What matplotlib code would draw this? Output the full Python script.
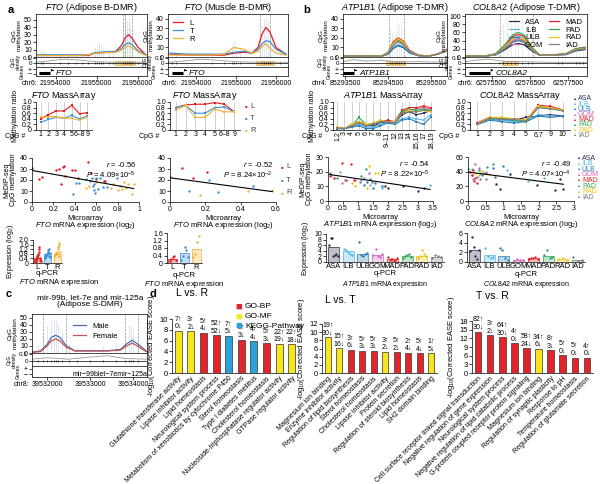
import numpy as np
import matplotlib.pyplot as plt
from matplotlib.patches import Rectangle

plt.rcParams['font.family'] = ['Liberation Sans', 'DejaVu Sans']
plt.rcParams['mathtext.fontset'] = 'custom'
plt.rcParams['mathtext.rm'] = 'Liberation Sans'
plt.rcParams['mathtext.it'] = 'Liberation Sans:italic'
plt.rcParams['axes.linewidth'] = 0.5
plt.rcParams['font.size'] = 5

W, H = 600, 484
fig = plt.figure(figsize=(6, 4.84), dpi=100)

# ---------------- colours ----------------
ltr_names = ['L', 'T', 'R']
ltr_colors = ['#e41a1c', '#3a8fd6', '#f2b134']
grp_names = ['ASA', 'ILB', 'ULB', 'GOM', 'MAD', 'PAD', 'RAD', 'IAD']
grp_colors = ['#2b2f4f', '#58b7e8', '#2a7fb8', '#d464b8', '#e0262b', '#33a852', '#f2c118', '#7f7f7f']

# ---------------- genome tracks (a, b, c) ----------------
fto_a_pos = [21953550, 21954000, 21954500, 21954800, 21954950, 21955200, 21955450, 21955600,
             21955700, 21955780, 21955860, 21956000, 21956200]
fto_a_L = [2, 2, 2, 2, 5, 6, 7, 15, 26, 30, 26, 14, 3]
fto_a_T = [3, 3, 3, 3, 6, 7, 7, 11, 17, 19, 17, 9, 3]
fto_a_R = [2, 2, 2, 3, 5, 6, 6, 9, 13, 15, 13, 7, 2]
fto_a_raw_pos = [21953650, 21953700, 21954100, 21954300, 21954500, 21954650, 21954800, 21954950,
                 21955000, 21955050, 21955100, 21955150, 21955300, 21955400, 21955650, 21955700,
                 21955740, 21955780, 21955820, 21955860, 21956000]
fto_a_raw_top = [10, 8, 4, 4, 5, 5, 5, 14, 18, 20, 16, 12, 10, 12, 45, 55, 50, 52, 40, 30, 12]

fto_m_pos = [21953350, 21953800, 21954300, 21954700, 21954950, 21955200, 21955400, 21955550,
             21955650, 21955750, 21955850, 21956000, 21956250]
fto_m_L = [3, 2, 2, 2, 4, 5, 4, 10, 24, 31, 26, 10, 3]
fto_m_T = [4, 3, 3, 3, 5, 6, 4, 8, 14, 17, 16, 8, 3]
fto_m_R = [2, 2, 2, 3, 10, 8, 4, 6, 11, 14, 9, 4, 2]
fto_m_raw_pos = [21953400, 21953500, 21954400, 21954700, 21954900, 21954950, 21955000, 21955100,
                 21955650, 21955700, 21955750, 21955800, 21955850, 21956100]
fto_m_raw_top = [6, 5, 3, 4, 14, 18, 16, 10, 32, 40, 42, 38, 30, 8]

atp_pos = [85293450, 85294000, 85294350, 85294500, 85294620, 85294730, 85294850, 85295000,
           85295200, 85295450, 85295650, 85295870]
atp_curves = {
    'ASA': [1, 1, 1, 3, 9, 12, 10, 5, 1.5, 1, 3, 7],
    'ILB': [1, 1, 1, 3, 10, 13, 11, 5, 1.5, 1, 3, 7],
    'ULB': [1, 1, 1, 3, 9, 12, 10, 4, 1.5, 1, 3, 6],
    'GOM': [1, 1, 1, 4, 13, 17, 14, 6, 1.5, 1, 3, 7],
    'MAD': [1, 1, 1, 5, 16, 20, 17, 7, 2, 1, 3, 8],
    'PAD': [1, 1, 1, 4, 15, 18, 15, 6, 2, 1, 3, 7],
    'RAD': [1, 1, 1, 4, 14, 19, 16, 6, 2, 1, 3, 7],
    'IAD': [1, 1, 1, 4, 12, 16, 13, 6, 1.5, 1, 3, 7],
}
atp_raw_pos = [85294550, 85294600, 85294650, 85294700, 85294750, 85294800, 85294870, 85295800]
atp_raw_top = [30, 25, 28, 40, 35, 38, 30, 10]

col_pos = [62574800, 62575300, 62575600, 62575850, 62576050, 62576200, 62576350, 62576550,
           62576750, 62577100, 62577450, 62577700, 62577950]
col_curves = {
    'ASA': [2, 2, 5, 18, 30, 33, 30, 15, 5, 5, 6, 15, 18],
    'ILB': [2, 2, 6, 25, 45, 50, 45, 20, 5, 5, 7, 18, 22],
    'ULB': [2, 2, 5, 20, 36, 40, 36, 17, 5, 5, 6, 16, 20],
    'GOM': [2, 2, 6, 24, 41, 45, 41, 19, 5, 5, 7, 18, 22],
    'MAD': [2, 2, 7, 28, 50, 55, 50, 22, 6, 5, 8, 20, 24],
    'PAD': [2, 2, 8, 30, 54, 60, 54, 24, 6, 5, 8, 20, 23],
    'RAD': [2, 2, 6, 25, 44, 48, 44, 20, 5, 5, 7, 18, 21],
    'IAD': [2, 2, 6, 22, 38, 42, 38, 18, 5, 5, 7, 17, 20],
}
col_raw_pos = [62575700, 62575800, 62575900, 62576000, 62576100, 62576200, 62576300, 62576450,
               62576550, 62577250, 62577350, 62577700, 62577800, 62577900]
col_raw_top = [70, 80, 95, 90, 100, 85, 95, 80, 60, 15, 20, 30, 35, 30]

c_pos = [39531650, 39531850, 39532000, 39532100, 39532200, 39532300, 39532450, 39532650,
         39533000, 39533400, 39533700, 39533850, 39533980, 39534120, 39534300]
c_male = [1, 3, 12, 22, 25, 22, 10, 3, 3, 3, 5, 13, 18, 12, 3]
c_female = [1, 2, 10, 17, 20, 17, 8, 3, 3, 3, 4, 10, 14, 9, 2]
c_raw_pos = [39531800, 39531900, 39532000, 39532100, 39532150, 39532200, 39532250, 39532350,
             39532500, 39532700, 39533000, 39533300, 39533600, 39533800, 39533900, 39533950,
             39534000, 39534100]
c_raw_top = [10, 25, 40, 45, 50, 48, 42, 30, 12, 8, 6, 10, 12, 30, 40, 38, 35, 25]

# ---------------- MassArray ----------------
fto_ma_labels = ['1', '2', '3', '4', '5', '6–8', '9']
fto_ma_adi = {'L': [0.40, 0.55, 0.68, 0.68, 0.88, 0.58, 0.62],
              'T': [0.27, 0.38, 0.45, 0.42, 0.52, 0.40, 0.50],
              'R': [0.45, 0.48, 0.48, 0.42, 0.42, 0.35, 0.48]}
fto_ma_mus = {'L': [0.80, 0.90, 0.92, 0.92, 0.98, 0.92, 0.65],
              'T': [0.80, 0.88, 0.60, 0.60, 0.80, 0.82, 0.65],
              'R': [0.70, 0.88, 0.45, 0.45, 0.75, 0.65, 0.65]}
atp_ma_labels = ['1,2', '3', '4', '5', '6', '7', '8', '9–11', '12', '13', '14', '15,16', '17', '18,19']
atp_ma = {
    'ASA': [0.05, 0.05, 0.15, 0.25, 0.15, 0.15, 0.25, 0.30, 0.25, 0.55, 0.65, 0.55, 0.60, 0.70],
    'ILB': [0.05, 0.05, 0.10, 0.20, 0.10, 0.10, 0.20, 0.25, 0.25, 0.40, 0.45, 0.40, 0.35, 0.55],
    'ULB': [0.05, 0.05, 0.10, 0.15, 0.05, 0.05, 0.15, 0.25, 0.20, 0.35, 0.40, 0.30, 0.20, 0.45],
    'GOM': [0.10, 0.05, 0.20, 0.30, 0.20, 0.20, 0.30, 0.30, 0.30, 0.65, 0.70, 0.75, 0.80, 0.75],
    'MAD': [0.10, 0.05, 0.20, 0.30, 0.20, 0.20, 0.30, 0.35, 0.30, 0.70, 0.80, 0.80, 0.85, 0.80],
    'PAD': [0.10, 0.05, 0.15, 0.45, 0.20, 0.20, 0.30, 0.30, 0.30, 0.65, 0.75, 0.70, 0.75, 0.70],
    'RAD': [0.10, 0.05, 0.20, 0.30, 0.20, 0.25, 0.35, 0.30, 0.30, 0.60, 0.70, 0.65, 0.70, 0.65],
    'IAD': [0.08, 0.05, 0.15, 0.25, 0.15, 0.20, 0.30, 0.30, 0.25, 0.60, 0.65, 0.65, 0.70, 0.70],
}
col_ma_labels = ['1', '2', '3', '4', '5', '6,7', '9', '10']
col_ma = {
    'ASA': [0.20, 0.40, 0.35, 0.35, 0.45, 0.50, 0.55, 0.50],
    'ILB': [0.25, 0.40, 0.35, 0.30, 0.30, 0.55, 0.50, 0.48],
    'ULB': [0.20, 0.35, 0.30, 0.25, 0.30, 0.50, 0.45, 0.50],
    'GOM': [0.25, 0.45, 0.40, 0.40, 0.30, 0.85, 0.80, 0.70],
    'MAD': [0.25, 0.45, 0.40, 0.40, 0.35, 0.88, 0.85, 0.72],
    'PAD': [0.20, 0.40, 0.40, 0.35, 0.30, 0.80, 0.78, 0.70],
    'RAD': [0.22, 0.45, 0.45, 0.40, 0.35, 0.85, 0.80, 0.70],
    'IAD': [0.20, 0.42, 0.40, 0.38, 0.32, 0.80, 0.75, 0.68],
}

# ---------------- MeDIP-seq vs microarray ----------------
fto_sc_adi = {
    'L': ([0, 0.07, 0.09, 0.22, 0.25, 0.27, 0.29, 0.30, 0.31, 0.37, 0.40, 0.43, 0.52, 0.55, 0.60, 0.67, 0.68],
          [31, 21, 23, 29, 30, 16, 32, 33, 24, 29, 29, 22, 36, 26, 21, 19, 19]),
    'T': ([0.38, 0.41, 0.44, 0.50, 0.54, 0.56, 0.57, 0.58, 0.59, 0.60, 0.62, 0.64, 0.66, 0.70, 0.79, 0.58],
          [7, 17, 17, 21, 19, 22, 15, 11, 8, 22, 12, 22, 14, 14, 22, 16]),
    'R': ([0.50, 0.53, 0.60, 0.74, 0.76, 0.80, 0.82, 0.86, 0.88, 0.90, 0.93, 0.95, 0.84],
          [13, 15, 18, 13, 16, 11, 15, 18, 13, 16, 7, 16, 12]),
}
fto_sc_mus = {
    'L': ([0, 0.07, 0.13, 0.21], [23, 31, 22, 27]),
    'T': ([0.11, 0.22, 0.27, 0.47], [10, 20, 9, 15]),
    'R': ([0.17, 0.44, 0.58], [6, 10, 11]),
}
atp_sc = {
    'ASA': ([2.5, 3.0, 3.2, 1.9, 2.0], [10, 7, 9, 10, 9]),
    'ILB': ([0.4, 1.1, 1.4, 1.8, 3.4], [20, 14, 11, 9, 11]),
    'ULB': ([1.2, 1.5, 1.55, 1.8, 1.3], [11, 9, 12, 10, 13]),
    'GOM': ([0.45, 0.9, 1.2, 1.35], [12, 14, 16, 19]),
    'MAD': ([0.05, 0.45, 0.75, 0.6, 0.85, 0.2], [17, 26, 25, 14, 14, 16]),
    'PAD': ([0.05, 0.3, 1.1, 1.4, 1.25], [19, 16, 17, 15, 22]),
    'RAD': ([0.8, 0.9, 1.3, 1.55, 1.35, 1.65], [12, 10, 9, 19, 24, 19]),
    'IAD': ([0.1, 0.55, 1.05, 1.45], [18, 14, 13, 13]),
}
col_sc = {
    'ASA': ([0.8, 0.9, 1.2, 2.45, 2.6, 2.7, 1.95], [23, 17, 37, 15, 30, 17, 22]),
    'ILB': ([0.1, 1.1, 1.7, 2.15, 0.5], [43, 42, 27, 32, 40]),
    'ULB': ([0.7, 1.0, 0.75, 0.4], [45, 48, 33, 35]),
    'GOM': ([0.15, 0.2, 0.3, 0.5, 0.1], [30, 50, 45, 38, 35]),
    'MAD': ([0.1, 0.18, 0.2, 0.25, 0.05, 0.15], [35, 27, 32, 24, 40, 42]),
    'PAD': ([0.0, 0.3, 0.55, 0.7, 0.35], [43, 42, 47, 50, 38]),
    'RAD': ([0.2, 0.3, 0.4, 0.6], [38, 35, 41, 37]),
    'IAD': ([0.25, 0.35, 0.45, 0.5], [33, 30, 38, 30]),
}

# ---------------- q-PCR ----------------
fto_q_adi_bar = [0.40, 0.75, 0.82]
fto_q_adi_pts = [[0.1, 0.2, 0.3, 0.35, 0.4, 0.5, 0.6, 0.7, 0.8, 1.0, 1.2, 1.4, 0.25, 0.45, 0.15],
                 [0.4, 0.5, 0.6, 0.7, 0.75, 0.8, 0.9, 1.0, 1.1, 1.2, 0.65, 0.55, 0.85],
                 [0.6, 0.7, 0.75, 0.8, 0.85, 0.9, 1.0, 1.2, 1.4, 1.6, 1.75, 0.65, 0.95]]
fto_q_mus_bar = [0.20, 0.55, 0.75]
fto_q_mus_pts = [[0.1, 0.2, 0.3, 0.35, 0.15], [0.15, 0.4, 0.85, 0.7, 0.3], [0.3, 0.5, 1.1, 1.45]]
atp_q_bar = [5.5, 3.9, 2.8, 2.4, 1.0, 2.2, 2.2, 1.9]
atp_q_pts = [[6, 8.5, 8.7, 2, 2.5, 3, 2.2], [4.5, 4.4, 3.5, 3.0, 2.5], [7, 2.5, 2.0, 3.0, 3.2],
             [2.5, 4.5, 2, 1.8, 3], [1.8, 0.8, 1.2, 1.0, 0.5, 0.7, 1.3], [1.5, 2.0, 2.5, 3.0, 1.8],
             [1.5, 2.0, 4.2, 3.0, 2.0], [1.5, 2.5, 2.0, 1.8]]
col_q_bar = [2.5, 1.4, 1.2, 0.5, 0.8, 1.3, 0.6, 0.35]
col_q_pts = [[2.2, 5.2, 3.2, 1.2, 0.6, 2.5], [2.8, 1.3, 0.8, 1.0], [2.9, 2.5, 0.8, 0.4],
             [0.3, 0.6, 0.4, 0.5], [0.6, 0.8, 0.9, 1.0, 0.7], [1.5, 2.4, 0.8, 1.0],
             [0.6, 0.8, 0.3], [1.0, 0.3, 0.5]]

# ---------------- panel d ----------------
lr_terms = ['Glutathione transferase activity', 'Lipase inhibitor activity', 'Lipid homeostasis',
            'Neurological system process', 'Metabolism of xenobiotics by cytochrome P450',
            'Sterol homeostasis', 'Type I diabetes mellitus', 'Cholesterol homeostasis',
            'Nucleoside-triphosphatase regulator activity', 'GTPase regulator activity']
lr_vals = [7.8, 7.7, 7.4, 7.0, 6.9, 6.2, 5.9, 5.5, 5.4, 5.3]
lr_type = ['MF', 'MF', 'BP', 'BP', 'KEGG', 'BP', 'KEGG', 'BP', 'MF', 'MF']
lr_up = [7, 3, 5, 52, 7, 5, 4, 5, 22, 22]
lr_dn = [0, 2, 4, 52, 5, 3, 4, 3, 19, 18]

lt_terms = ['Magnesium ion binding', 'Enzyme inhibitor activity', 'Regulation of lipid biosynthesis',
            'Sterol homeostasis', 'Cholesterol homeostasis', 'Lipase inhibitor activity',
            'Protein secretion', 'Regulation of steroid biosynthesis', 'Lipid homeostasis',
            'SH2 domain binding']
lt_vals = [8.7, 6.1, 5.7, 5.4, 5.4, 5.2, 5.1, 4.9, 4.8, 4.8]
lt_type = ['MF', 'MF', 'BP', 'BP', 'BP', 'MF', 'BP', 'BP', 'BP', 'MF']
lt_up = [19, 15, 3, 5, 5, 3, 5, 2, 5, 1]
lt_dn = [30, 16, 6, 3, 3, 2, 2, 4, 4, 5]

tr_terms = ['Cell surface receptor linked signal transduction', 'Negative regulation of gene expression',
            'Neurological system process', 'Negative regulation of lipid catabolic process',
            'G-protein coupled receptor protein signaling', 'Magnesium ion binding',
            'Regulation of synaptic plasticity', 'Response to pH', 'Temperature homeostasis',
            'Regulation of glutamate secretion']
tr_vals = [14.3, 13.0, 12.3, 10.3, 8.5, 8.3, 7.9, 6.1, 5.3, 5.2]
tr_type = ['BP', 'BP', 'BP', 'BP', 'BP', 'MF', 'BP', 'BP', 'BP', 'BP']
tr_up = [82, 3, 64, 4, 58, 34, 8, 5, 5, 4]
tr_dn = [30, 2, 30, 0, 24, 6, 3, 0, 0, 0]

type_colors = {'BP': '#e3242b', 'MF': '#f7e51d', 'KEGG': '#2aa3dc'}


def axpx(x0, y0, x1, y1):
    return fig.add_axes([x0 / W, 1 - y1 / H, (x1 - x0) / W, (y1 - y0) / H])


def ticks(ax, size=5):
    ax.tick_params(length=2, width=0.5, labelsize=size, pad=1)


def openframe(ax):
    ax.spines['top'].set_visible(False)
    ax.spines['right'].set_visible(False)


def ftext(x, y, s, **kw):
    fig.text(x / W, 1 - y / H, s, **kw)


def genome(x0, x1, yt, ym, yd, yb, xlim, pos, curves, colors, ylim, yticks, xticks, chrom,
           raw_pos, raw_top, raw_col, dmr, dens_x, dens_y, island, gene, gname, title):
    a1 = axpx(x0, yt, x1, ym)
    a1.vlines(raw_pos, 0, raw_top, color=raw_col, lw=0.4, alpha=0.45)
    for d in dmr:
        a1.axvline(d, color='#999999', lw=0.5, ls='--')
    for ys, c in zip(curves, colors):
        a1.plot(pos, ys, color=c, lw=0.9)
    a1.set_xlim(*xlim)
    a1.set_ylim(*ylim)
    a1.set_yticks(yticks)
    a1.set_xticks([])
    a1.set_ylabel('CpG\nmethylation', fontsize=4.5, labelpad=2, linespacing=1.0)
    ticks(a1)
    if title:
        a1.set_title(title, fontsize=6.5, pad=2)
    a2 = axpx(x0, ym, x1, yd)
    a2.plot(dens_x, dens_y, color='#999999', lw=0.6)
    a2.axhline(0, color='k', lw=0.5)
    if island[1] > island[0]:
        a2.add_patch(Rectangle((island[0], -0.035), island[1] - island[0], 0.07,
                               facecolor='#f4cf85', edgecolor='#d9a441', lw=0.4))
    a2.plot(raw_pos, [0] * len(raw_pos), '|', color='k', ms=2, mew=0.4)
    a2.set_xlim(*xlim)
    a2.set_ylim(-0.07, 0.12)
    ticks(a2, 4.5)
    a2.set_yticks([0, 0.1])
    a2.set_yticklabels(['0', '0.1'])
    a2.set_xticks([])
    a2.set_ylabel('CpG\ndensity', fontsize=3.6, labelpad=2, linespacing=1.0)
    a3 = axpx(x0, yd, x1, yb)
    if gname:
        a3.plot(gene, [-0.6, -0.6], color='k', lw=2.2, solid_capstyle='butt')
        a3.annotate('', xy=(gene[1] + (xlim[1] - xlim[0]) * 0.03, 0.4), xytext=(gene[1], 0.4),
                    arrowprops=dict(arrowstyle='-|>', lw=0.5, color='k', mutation_scale=3))
        a3.text(gene[1] + (xlim[1] - xlim[0]) * 0.05, -0.6, gname, fontsize=6, va='center',
                style='italic')
    a3.set_xlim(*xlim)
    a3.set_ylim(-1.5, 1.5)
    ticks(a3)
    a3.set_yticks([0.8, -0.8])
    a3.set_yticklabels(['+', '−'])
    a3.set_ylabel('Genes', fontsize=3.6, labelpad=2)
    a3.set_xticks(xticks)
    a3.set_xticklabels([str(v) for v in xticks])
    a3.annotate(chrom, xy=(xticks[0], 0), xycoords=('data', 'axes fraction'), xytext=(-13, -3),
                textcoords='offset points', ha='right', va='top', fontsize=5)
    return a1


def massarray(x0, y0, x1, y1, labels, data, names, colors, title, rot=0, ylab=True):
    ax = axpx(x0, y0, x1, y1)
    n = len(labels)
    for i in range(n):
        ax.axvline(i, color='#aaaaaa', lw=0.4)
    for nm, c in zip(names, colors):
        ax.plot(range(n), data[nm], '-s', color=c, lw=0.8, ms=1.6, mew=0)
    ax.set_xlim(-0.6, n - 0.4)
    ax.set_ylim(0, 1.0)
    ticks(ax)
    ax.set_yticks(np.arange(0, 1.01, 0.2))
    ax.set_yticklabels(['0', '0.2', '0.4', '0.6', '0.8', '1.0'])
    ax.set_xticks(range(n))
    ax.set_xticklabels(labels, rotation=rot)
    openframe(ax)
    ax.tick_params(axis='x', length=0)
    ax.set_title(title, fontsize=6.5, pad=2)
    if ylab:
        ax.set_ylabel('Methylation ratio', fontsize=5, labelpad=2)
    ax.annotate('CpG #', xy=(0, 0), xycoords='axes fraction', xytext=(-8, -2),
                textcoords='offset points', ha='right', va='top', fontsize=5)
    return ax


def scatter(x0, y0, x1, y1, data, names, colors, xlim, xt, ylim, yt, rtxt, ptxt, gene_lbl):
    ax = axpx(x0, y0, x1, y1)
    allx, ally = [], []
    for nm, c in zip(names, colors):
        xs, ys = data[nm]
        ax.scatter(xs, ys, s=3, color=c, lw=0)
        allx += xs
        ally += ys
    k, b = np.polyfit(allx, ally, 1)
    xl = np.array([min(allx), max(allx)])
    ax.plot(xl, k * xl + b, color='k', lw=0.8)
    ax.set_xlim(*xlim)
    ax.set_ylim(*ylim)
    ticks(ax)
    ax.set_xticks(xt)
    ax.set_yticks(yt)
    openframe(ax)
    ax.text(0.97, 0.95, rtxt + '\n' + ptxt, transform=ax.transAxes, ha='right', va='top',
            fontsize=5.5, linespacing=1.1)
    ax.set_xlabel('Microarray', fontsize=5.5, labelpad=1)
    ax.text(0.5, -0.42, gene_lbl, transform=ax.transAxes, ha='center', va='top', fontsize=5.5)
    return ax


def qpcr(x0, y0, x1, y1, bars, pts, names, colors, ylim, yt, ytl, lblsize=5.5, ylab=True):
    ax = axpx(x0, y0, x1, y1)
    for i, (h, p, c) in enumerate(zip(bars, pts, colors)):
        ax.bar(i, h, width=0.75, color=c, alpha=0.3, lw=0)
        ax.bar(i, h, width=0.75, fill=False, edgecolor=c, lw=0.5)
        jit = np.linspace(-0.28, 0.28, len(p))
        ax.scatter(i + jit, p, s=3, color=c, lw=0, zorder=3)
    ax.set_xlim(-0.5, len(bars) - 0.5)
    ax.set_ylim(*ylim)
    ticks(ax)
    ax.set_yticks(yt)
    ax.set_yticklabels(ytl)
    ax.set_xticks(range(len(bars)))
    ax.set_xticklabels(names, fontsize=lblsize)
    openframe(ax)
    ax.tick_params(axis='x', length=0, pad=0.5)
    if ylab:
        ax.set_ylabel('Expression (log$_2$)', fontsize=5, labelpad=2)
    ax.text(0.5, -0.3, 'q-PCR', transform=ax.transAxes, ha='center', va='top', fontsize=5.5)
    return ax


def ease(x0, y0, x1, y1, terms, vals, types, up, dn, ylim, yt, title):
    ax = axpx(x0, y0, x1, y1)
    xs = np.arange(len(terms))
    ax.bar(xs, vals, width=0.55, color=[type_colors[t] for t in types], edgecolor='#333333', lw=0.5)
    for x, v, u, d in zip(xs, vals, up, dn):
        ax.annotate(f'{d}↓', (x, v), xytext=(0, 0.5), textcoords='offset points', ha='center',
                    va='bottom', fontsize=5)
        ax.annotate(f'{u}↑', (x, v), xytext=(0, 6), textcoords='offset points', ha='center',
                    va='bottom', fontsize=5)
    ax.set_xlim(-0.5, len(terms) - 0.5)
    ax.set_ylim(*ylim)
    ticks(ax, 5.5)
    ax.set_yticks(yt)
    ax.set_xticks(xs)
    ax.set_xticklabels(terms, rotation=45, ha='right', rotation_mode='anchor', fontsize=5.0)
    openframe(ax)
    ax.tick_params(axis='x', length=0, pad=1.5)
    ax.set_ylabel('-log$_{10}$(Corrected EASE score)', fontsize=5.5, labelpad=2)
    ax.text(0.03, 1.38, title, transform=ax.transAxes, fontsize=7.5, va='bottom')
    return ax


# ---------------- panel a ----------------
ftext(8, 5, 'a', fontsize=8, fontweight='bold', va='top')
genome(36, 147, 14, 57, 67, 76, (21953520, 21956230), fto_a_pos, [fto_a_L, fto_a_T, fto_a_R],
       ltr_colors, (0, 58), range(0, 51, 10), [21954000, 21955000, 21956000], 'chr6:',
       fto_a_raw_pos, fto_a_raw_top, '#6f8fc8', [21955650, 21955700, 21955860],
       [21953550, 21953900, 21954200, 21954600, 21955000, 21955500, 21956200],
       [0.02, 0.05, 0.08, 0.06, 0.03, 0.02, 0.02], (21955450, 21955925),
       (21953600, 21953870), 'FTO', r'$\it{FTO}$ (Adipose B-DMR)')
g = genome(168, 288, 14, 57, 67, 76, (21953300, 21956300), fto_m_pos, [fto_m_L, fto_m_T, fto_m_R],
           ltr_colors, (0, 45), range(0, 41, 10), [21954000, 21955000, 21956000], 'chr6:',
           fto_m_raw_pos, fto_m_raw_top, '#8fa8d8', [21955600, 21955850],
           [21953300, 21953800, 21954100, 21954500, 21955000, 21955500, 21956300],
           [0.02, 0.05, 0.08, 0.06, 0.03, 0.02, 0.02], (21955500, 21955950),
           (21953400, 21953680), 'FTO', r'$\it{FTO}$ (Muscle B-DMR)')
for nm, c in zip(ltr_names, ltr_colors):
    g.plot([], [], color=c, lw=0.9, label=nm)
g.legend(loc='upper left', fontsize=5.5, frameon=False, handlelength=1.3, labelspacing=0.1,
         borderaxespad=0.3)

massarray(36, 102, 92, 130, fto_ma_labels, fto_ma_adi, ltr_names, ltr_colors, r'$\it{FTO}$ MassArray')
massarray(170, 102, 240, 130, fto_ma_labels, fto_ma_mus, ltr_names, ltr_colors,
          r'$\it{FTO}$ MassArray', ylab=False)
for i, (nm, c) in enumerate(zip(ltr_names, ltr_colors)):
    ftext(245, 106 + 12 * i, '■', color=c, fontsize=3, va='center')
    ftext(250, 106 + 12 * i, nm, color='#444444', fontsize=5.5, va='center')

ax = scatter(32, 158, 139, 202, fto_sc_adi, ltr_names, ltr_colors, (0, 1),
             [0, 0.2, 0.4, 0.6, 0.8, 1], (0, 40), range(0, 41, 10), r'$r$ = -0.56',
             r'$P$ = 4.09×10$^{-5}$', r'$\it{FTO}$ mRNA expression (log$_2$)')
ax.set_xticklabels(['0', '0.2', '0.4', '0.6', '0.8', '1'])
ax.set_ylabel('MeDIP-seq\nCpG methylation', fontsize=5, labelpad=2, linespacing=1.0)
ax = scatter(170, 158, 276, 202, fto_sc_mus, ltr_names, ltr_colors, (0, 0.6), [0, 0.2, 0.4, 0.6],
             (0, 40), range(0, 41, 10), r'$r$ = -0.52', r'$P$ = 8.24×10$^{-2}$',
             r'$\it{FTO}$ mRNA expression (log$_2$)')
ax.set_xticklabels(['0', '0.2', '0.4', '0.6'])
for i, (nm, c) in enumerate(zip(ltr_names, ltr_colors)):
    ftext(281, 167 + 13 * i, '■', color=c, fontsize=3, va='center')
    ftext(286, 167 + 13 * i, nm, color='#444444', fontsize=5.5, va='center')

ax = qpcr(33, 240, 62, 263, fto_q_adi_bar, fto_q_adi_pts, ltr_names, ltr_colors, (0, 2.0),
          [0, 0.4, 0.8, 1.2, 1.6, 2.0], ['0', '0.4', '0.8', '1.2', '1.6', '2.0'])
ax.text(0.9, -0.62, r'$\it{FTO}$ mRNA expression', transform=ax.transAxes, ha='center', va='top',
        fontsize=5.5)
ax = qpcr(167, 233, 202, 263, fto_q_mus_bar, fto_q_mus_pts, ltr_names, ltr_colors, (0, 1.6),
          [0, 0.4, 0.8, 1.2, 1.6], ['0', '0.4', '0.8', '1.2', '1.6'], ylab=False)
ax.text(0.5, -0.55, r'$\it{FTO}$ mRNA expression', transform=ax.transAxes, ha='center', va='top',
        fontsize=5.5)

# ---------------- panel b ----------------
ftext(303, 5, 'b', fontsize=8, fontweight='bold', va='top')
genome(343, 447, 14, 57, 67, 76, (85293450, 85295870), atp_pos, [atp_curves[n] for n in grp_names],
       grp_colors, (0, 45), range(0, 41, 10), [85293500, 85294500, 85295500], 'chr4:',
       atp_raw_pos, atp_raw_top, '#b0b0b0', [85294520, 85294870],
       [85293450, 85293700, 85294000, 85294300, 85294700, 85295200, 85295870],
       [0.03, 0.07, 0.04, 0.06, 0.03, 0.03, 0.02], (85294450, 85294900),
       (85293450, 85293700), 'ATP1B1', r'$\it{ATP1B1}$ (Adipose T-DMR)')
g = genome(465, 587, 14, 57, 67, 76, (62574800, 62578000), col_pos, [col_curves[n] for n in grp_names],
           grp_colors, (0, 105), range(0, 101, 20), [62575500, 62576500, 62577500], 'chr6:',
           col_raw_pos, col_raw_top, '#b0b0b0', [62575720, 62576590],
           [62574800, 62575100, 62575400, 62575800, 62576300, 62577000, 62578000],
           [0.03, 0.06, 0.08, 0.04, 0.03, 0.02, 0.02], (62575770, 62576170),
           (62574900, 62575450), 'COL8A2', r'$\it{COL8A2}$ (Adipose T-DMR)')
for nm, c in zip(grp_names, grp_colors):
    g.plot([], [], color=c, lw=0.9, label=nm)
g.legend(loc='upper right', ncol=2, fontsize=5.5, frameon=False, handlelength=1.3,
         labelspacing=0.05, columnspacing=0.8, borderaxespad=0.2)

massarray(333, 102, 435, 130, atp_ma_labels, atp_ma, grp_names, grp_colors,
          r'$\it{ATP1B1}$ MassArray', rot=90)
massarray(470, 102, 570, 130, col_ma_labels, col_ma, grp_names, grp_colors,
          r'$\it{COL8A2}$ MassArray', ylab=False)
for i, (nm, c) in enumerate(zip(grp_names, grp_colors)):
    ftext(574, 99 + 5.2 * i, '■', color=c, fontsize=2.5, va='center')
    ftext(578, 99 + 5.2 * i, nm, color=c, fontsize=5, va='center')

ax = scatter(328, 157, 433, 201, atp_sc, grp_names, grp_colors, (0, 3.5),
             [0, 0.5, 1, 1.5, 2, 2.5, 3, 3.5], (0, 30), range(0, 31, 10), r'$r$ = -0.54',
             r'$P$ = 8.22×10$^{-5}$', r'$\it{ATP1B1}$ mRNA expression (log$_2$)')
ax.set_xticklabels(['0', '0.5', '1', '1.5', '2', '2.5', '3', '3.5'])
ax.set_ylabel('MeDIP-seq\nCpG methylation', fontsize=5, labelpad=2, linespacing=1.0)
ax = scatter(468, 157, 574, 201, col_sc, grp_names, grp_colors, (0, 3),
             [0, 0.5, 1, 1.5, 2, 2.5, 3], (0, 60), range(0, 61, 20), r'$r$ = -0.49',
             r'$P$ = 4.07×10$^{-4}$', r'$\it{COL8A2}$ mRNA expression (log$_2$)')
ax.set_xticklabels(['0', '0.5', '1', '1.5', '2', '2.5', '3'])
for i, (nm, c) in enumerate(zip(grp_names, grp_colors)):
    ftext(578, 158 + 5.6 * i, '■', color=c, fontsize=2.5, va='center')
    ftext(582, 158 + 5.6 * i, nm, color=c, fontsize=5, va='center')

ax = qpcr(326, 234, 444, 262, atp_q_bar, atp_q_pts, grp_names, grp_colors, (0, 10),
          range(0, 11, 2), [str(v) for v in range(0, 11, 2)], lblsize=5.5)
ax.text(0.5, -0.6, r'$\it{ATP1B1}$ mRNA expression', transform=ax.transAxes, ha='center',
        va='top', fontsize=5)
ax = qpcr(467, 233, 585, 262, col_q_bar, col_q_pts, grp_names, grp_colors, (0, 6),
          [0, 2, 4, 6], ['0', '2', '4', '6'], lblsize=5.5, ylab=False)
ax.text(0.5, -0.6, r'$\it{COL8A2}$ mRNA expression', transform=ax.transAxes, ha='center',
        va='top', fontsize=5)

# ---------------- panel c ----------------
ftext(6, 289, 'c', fontsize=8, fontweight='bold', va='top')
ftext(90, 301, 'mir-99b, let-7e and mir-125a\n(Adipose S-DMR)', fontsize=6, ha='center',
      va='center', linespacing=1.1)
g = genome(32, 147, 314, 353, 366, 377, (39531650, 39534320), c_pos, [c_male, c_female],
           ['#4a6fb5', '#c8504f'], (0, 55), range(0, 51, 10), [39532000, 39533000, 39534000],
           'chr8:', c_raw_pos, c_raw_top, '#7f95cc', [39531900, 39532450, 39533800, 39534100],
           [39531650, 39532000, 39532500, 39533000, 39533400, 39533800, 39534320],
           [0.03, 0.05, 0.03, 0.06, 0.08, 0.04, 0.03], (0, 0), (0, 0), '', '')
g.plot([], [], color='#4a6fb5', lw=0.9, label='Male')
g.plot([], [], color='#c8504f', lw=0.9, label='Female')
g.legend(loc='upper center', fontsize=5.5, frameon=False, handlelength=1.8, labelspacing=0.3,
         bbox_to_anchor=(0.55, 0.95))
ftext(147, 375, 'mir−99blet−7emir−125a', fontsize=5, ha='right', va='center')

# ---------------- panel d ----------------
ftext(150, 289, 'd', fontsize=8, fontweight='bold', va='top')
ease(172, 319, 298, 373, lr_terms, lr_vals, lr_type, lr_up, lr_dn, (0, 10), range(0, 11, 2), 'L vs. R')
ease(322, 324, 437, 373, lt_terms, lt_vals, lt_type, lt_up, lt_dn, (0, 12), range(0, 13, 2), 'L vs. T')
ease(472, 321, 593, 373, tr_terms, tr_vals, tr_type, tr_up, tr_dn, (0, 18), range(0, 19, 3), 'T vs. R')
for i, (lbl, t) in enumerate(zip(['GO-BP', 'GO-MF', 'KEGG-Pathway'], ['BP', 'MF', 'KEGG'])):
    ftext(235, 307 + 9.5 * i, '■', color=type_colors[t], fontsize=8, va='center')
    ftext(245, 307 + 9.5 * i, lbl, fontsize=6, va='center')

fig.savefig('out.png', dpi=100)
